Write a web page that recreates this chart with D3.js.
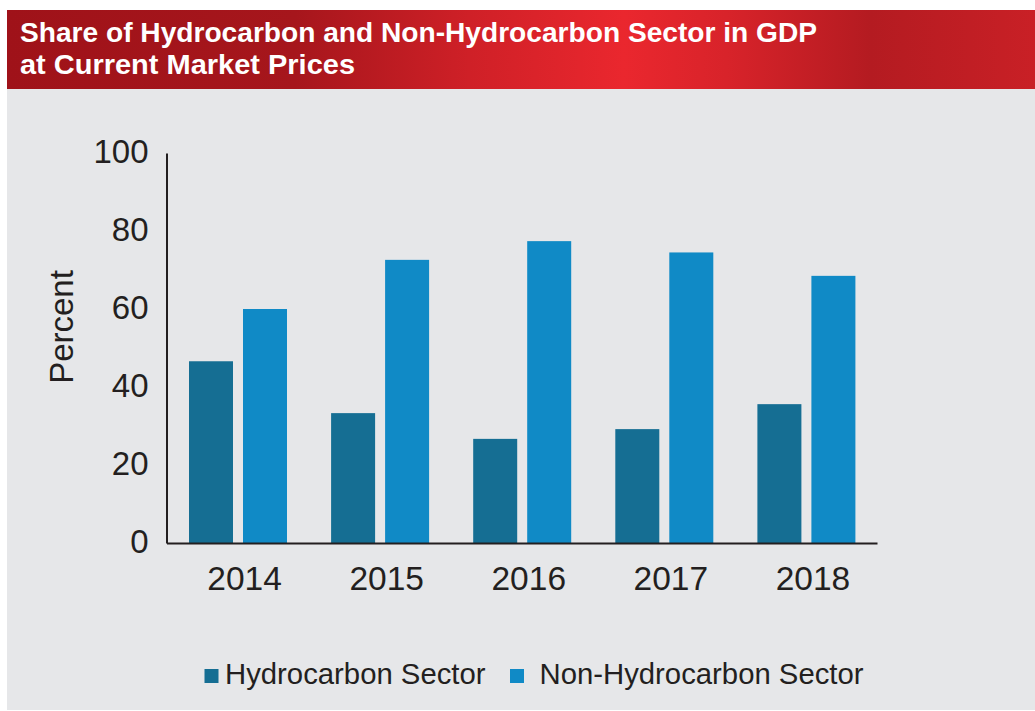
<!DOCTYPE html>
<html>
<head>
<meta charset="utf-8">
<script src="https://cdn.jsdelivr.net/npm/d3@7"></script>
<style>
  html, body { margin: 0; padding: 0; background: #ffffff; }
  svg { display: block; font-family: "Liberation Sans", Arial, sans-serif; }
</style>
</head>
<body>
<div id="chart"></div>
<script>
// —————————— DATA
var years = ["2014", "2015", "2016", "2017", "2018"];
var hydrocarbon = [46.6, 33.3, 26.7, 29.2, 35.6];
var nonHydrocarbon = [60.0, 72.6, 77.4, 74.5, 68.5];
var seriesNames = ["Hydrocarbon Sector", "Non-Hydrocarbon Sector"];
var yTicks = [0, 20, 40, 60, 80, 100];
var titleLines = ["Share of Hydrocarbon and Non-Hydrocarbon Sector in GDP", "at Current Market Prices"];

// —————————— SIZES / COLOURS
var W = 1035, H = 711;
var colors = ["#156e93", "#108ac6"];
var ink = "#231f20";
var margin = {top: 153, right: 158, bottom: 168, left: 166.5};
var width = W - margin.left - margin.right,
    height = H - margin.top - margin.bottom;

var svg = d3.select("#chart")
  .append("svg")
    .attr("width", W)
    .attr("height", H);

// banner gradient
var grad = svg.append("defs").append("linearGradient")
    .attr("id", "banner")
    .attr("x1", "0%").attr("x2", "100%").attr("y1", "0%").attr("y2", "0%");
[["0%", "#9f1219"], ["28%", "#a6161c"], ["45%", "#cf2027"], ["60%", "#ea272e"], ["70%", "#d8232a"],
 ["84%", "#b41b21"], ["100%", "#c92026"]].forEach(function(s) {
  grad.append("stop").attr("offset", s[0]).attr("stop-color", s[1]);
});

// panel + banner
svg.append("rect").attr("x", 7).attr("y", 89).attr("width", W - 7).attr("height", 621).attr("fill", "#e6e7e9");
svg.append("rect").attr("x", 7).attr("y", 10).attr("width", W - 7).attr("height", 79).attr("fill", "url(#banner)");

var titleWidths = [797, 335];
svg.selectAll(".title")
  .data(titleLines)
  .enter()
  .append("text")
    .attr("class", "title")
    .attr("x", 20)
    .attr("y", function(d, i) { return 42 + i * 32; })
    .attr("textLength", function(d, i) { return titleWidths[i]; })
    .attr("lengthAdjust", "spacingAndGlyphs")
    .style("font-size", "28px")
    .style("font-weight", "bold")
    .style("fill", "#ffffff")
    .text(function(d) { return d; });

var g = svg.append("g")
    .attr("transform", "translate(" + margin.left + "," + margin.top + ")");

// scales
var x = d3.scaleBand().domain(years).range([0, width]);
var x1 = d3.scaleBand().domain(seriesNames).range([22.5, 22.5 + 98]).paddingInner(10 / 54);
var y = d3.scaleLinear().domain([0, 100]).range([height, 0]);

// Y axis
var yAxis = g.append("g")
  .call(d3.axisLeft(y).tickValues(yTicks).tickSize(0).tickPadding(18));
yAxis.select(".domain").attr("stroke", ink).attr("stroke-width", 2);
yAxis.selectAll(".tick text")
  .attr("dy", "0.3em")
  .style("font-size", "33px")
  .style("fill", ink)
  .style("font-family", "Liberation Sans, Arial, sans-serif");

// bars
var groups = g.selectAll(".yr")
  .data(years)
  .enter()
  .append("g")
    .attr("class", "yr")
    .attr("transform", function(d) { return "translate(" + x(d) + ",0)"; });

groups.selectAll("rect")
  .data(function(d, i) { return [hydrocarbon[i], nonHydrocarbon[i]]; })
  .enter()
  .append("rect")
    .attr("x", function(d, j) { return x1(seriesNames[j]); })
    .attr("width", x1.bandwidth())
    .attr("y", function(d) { return y(d); })
    .attr("height", function(d) { return y(0) - y(d); })
    .attr("fill", function(d, j) { return colors[j]; });

// X axis
var xAxis = g.append("g")
  .attr("transform", "translate(0," + height + ")")
  .call(d3.axisBottom(x).tickSize(0).tickPadding(23));
xAxis.select(".domain").attr("stroke", ink).attr("stroke-width", 2);
xAxis.selectAll(".tick text")
  .attr("dx", 7)
  .style("font-size", "33.5px")
  .style("fill", ink)
  .style("font-family", "Liberation Sans, Arial, sans-serif");

// Y title
svg.append("text")
  .attr("transform", "translate(73,327) rotate(-90)")
  .attr("text-anchor", "middle")
  .style("font-size", "33px")
  .style("fill", ink)
  .text("Percent");

// legend
var legendX = [204.5, 510];
var legend = svg.selectAll(".leg")
  .data(seriesNames)
  .enter()
  .append("g")
    .attr("class", "leg")
    .attr("transform", function(d, i) { return "translate(" + legendX[i] + ",669)"; });
legend.append("rect")
  .attr("width", 14).attr("height", 14)
  .attr("fill", function(d, i) { return colors[i]; });
legend.append("text")
  .attr("x", function(d, i) { return i === 0 ? 20.5 : 29.5; })
  .attr("y", 15)
  .style("font-size", "29.3px")
  .style("fill", ink)
  .text(function(d) { return d; });
</script>
</body>
</html>
